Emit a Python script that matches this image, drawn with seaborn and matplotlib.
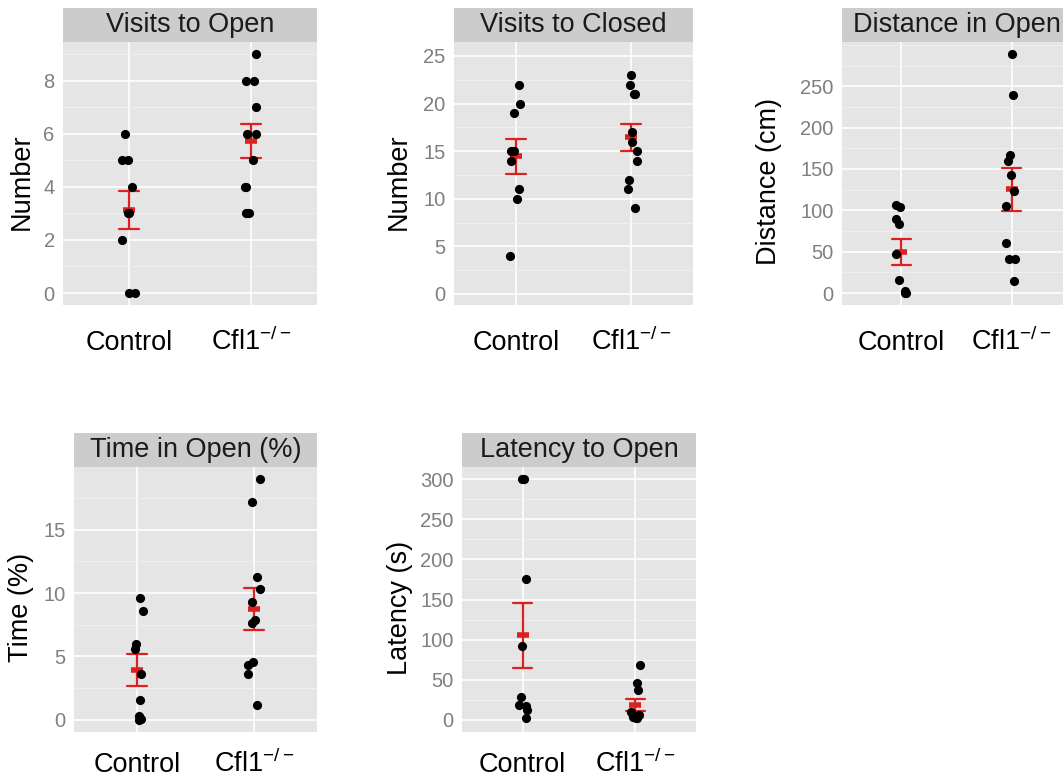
import numpy as np
import pandas as pd
import seaborn as sns
import matplotlib
matplotlib.use("Agg")
import matplotlib.pyplot as plt
from matplotlib.ticker import MultipleLocator, FixedLocator

groups = ["Control", r"Cfl1$^{-/-}$"]

open_visits_ctrl = [6, 5, 5, 4, 3, 3, 2, 0, 0]
open_visits_ko = [9, 8, 8, 7, 6, 6, 5, 4, 4, 3, 3]
closed_visits_ctrl = [22, 20, 19, 15, 15, 14, 11, 10, 4]
closed_visits_ko = [23, 22, 21, 21, 17, 16, 15, 14, 12, 11, 9]
open_dist_ctrl = [107, 104, 90, 83, 47, 16, 2, 0, 0]
open_dist_ko = [289, 239, 167, 160, 143, 123, 105, 61, 41, 41, 14]
open_time_ctrl = [9.6, 8.6, 6.0, 5.6, 3.6, 1.6, 0.3, 0.1, 0.0]
open_time_ko = [19.0, 17.2, 11.3, 10.3, 9.3, 7.9, 7.6, 4.6, 4.3, 3.6, 1.2]
latency_ctrl = [300, 300, 175, 92, 29, 19, 17, 13, 2]
latency_ko = [68, 46, 37, 10, 6, 5, 4, 4, 3, 2]

titles = ["Visits to Open", "Visits to Closed", "Distance in Open",
          "Time in Open (%)", "Latency to Open"]
ylabels = ["Number", "Number", "Distance (cm)", "Time (%)", "Latency (s)"]
series = [(open_visits_ctrl, open_visits_ko),
          (closed_visits_ctrl, closed_visits_ko),
          (open_dist_ctrl, open_dist_ko),
          (open_time_ctrl, open_time_ko),
          (latency_ctrl, latency_ko)]
tick_steps = [2, 5, 50, 5, 50]
tick_tops = [8, 25, 250, 15, 300]
ylims = [(-0.45, 9.45), (-1.16, 26.47), (-14.45, 303.5), (-0.95, 19.93), (-15, 315)]

# panel boxes in pixels: left, top, right, bottom
W, H = 1063, 777
boxes = [(63, 42, 317, 305), (454, 42, 693, 305), (842, 42, 1071, 305),
         (74, 467, 317, 732), (462, 467, 696, 732)]
label_x = [22, 399, 769, 21, 400]
xlabel_pad = [28.4, 28.4, 28.4, 24.8, 24.8]
STRIP_H = 34
RED = "#DD2020"

sns.set_style("darkgrid", {"axes.facecolor": "#E5E5E5", "grid.color": "white"})
plt.rcParams["font.family"] = ["Liberation Sans", "DejaVu Sans"]
plt.rcParams["mathtext.fontset"] = "custom"
plt.rcParams["mathtext.rm"] = "Liberation Sans"
plt.rcParams["mathtext.it"] = "Liberation Sans:italic"
plt.rcParams["mathtext.default"] = "regular"

np.random.seed(11)
fig = plt.figure(figsize=(W / 100, H / 100), dpi=100)

for i, (ctrl, ko) in enumerate(series):
    l, t, r, b = boxes[i]
    ax = fig.add_axes([l / W, 1 - b / H, (r - l) / W, (b - t) / H])
    df = pd.DataFrame({
        "group": [groups[0]] * len(ctrl) + [groups[1]] * len(ko),
        "value": list(ctrl) + list(ko),
    })

    sns.pointplot(data=df, x="group", y="value", order=groups, errorbar="se",
                  color=RED, markers="_", linestyles="none", capsize=0.17,
                  err_kws={"linewidth": 1.6}, markersize=8.5, markeredgewidth=4,
                  ax=ax, zorder=2)
    sns.stripplot(data=df, x="group", y="value", order=groups, color="black",
                  size=6.6, jitter=0.055, linewidth=0, ax=ax, zorder=3)

    ax.set_xlim(-0.54, 1.54)
    ax.set_ylim(*ylims[i])
    ax.yaxis.set_major_locator(FixedLocator(np.arange(0, tick_tops[i] + 0.01, tick_steps[i])))
    ax.yaxis.set_minor_locator(MultipleLocator(tick_steps[i] / 2))
    ax.set_facecolor("#E5E5E5")
    for s in ax.spines.values():
        s.set_visible(False)
    ax.grid(which="major", color="white", linewidth=1.2)
    ax.grid(which="minor", axis="y", color="#F2F2F2", linewidth=0.6)
    ax.set_axisbelow(True)

    ax.tick_params(which="major", length=4, width=0.9, color="#7F7F7F")
    ax.tick_params(which="minor", length=0)
    ax.tick_params(axis="y", labelsize=14.5, labelcolor="#7F7F7F", pad=2)
    ax.tick_params(axis="x", labelsize=19.5, labelcolor="black", pad=xlabel_pad[i])
    ax.set_xticks([0, 1], groups, va="baseline")

    ax.set_xlabel("")
    ax.set_ylabel(ylabels[i], fontsize=19.5, color="black", va="center")
    ax.yaxis.set_label_coords((label_x[i] - l) / (r - l), 0.47)

    # facet strip
    sax = fig.add_axes([l / W, 1 - t / H, (r - l) / W, STRIP_H / H])
    sax.set_facecolor("#CCCCCC")
    sax.set_xticks([])
    sax.set_yticks([])
    sax.grid(False)
    for s in sax.spines.values():
        s.set_visible(False)
    sax.text(0.5, 0.5, titles[i], ha="center", va="center", fontsize=19.5,
             color="#1A1A1A", transform=sax.transAxes)

fig.savefig("out.png", dpi=100)
